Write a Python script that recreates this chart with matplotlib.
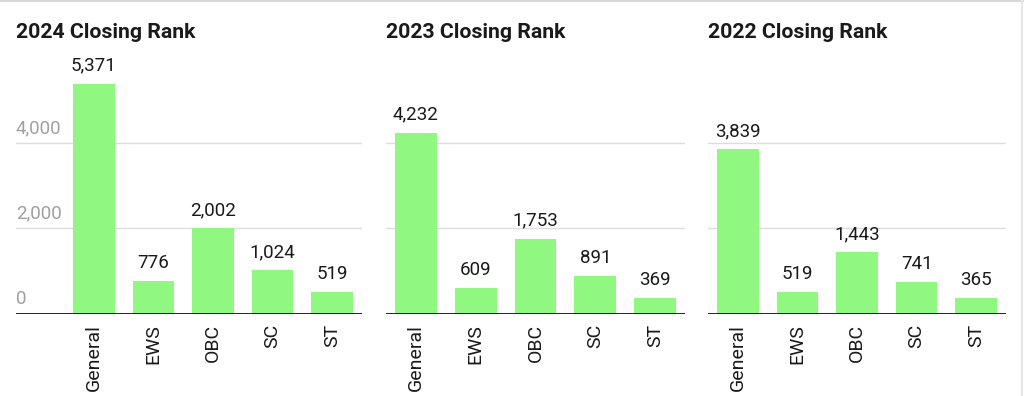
import matplotlib
matplotlib.use("Agg")
import matplotlib.pyplot as plt
from matplotlib.lines import Line2D

plt.rcParams['font.family'] = ['Roboto', 'DejaVu Sans']

categories = ["General", "EWS", "OBC", "SC", "ST"]
titles = ["2024 Closing Rank", "2023 Closing Rank", "2022 Closing Rank"]
values_2024 = [5371, 776, 2002, 1024, 519]
values_2023 = [4232, 609, 1753, 891, 369]
values_2022 = [3839, 519, 1443, 741, 365]
series = [values_2024, values_2023, values_2022]
yticks = [0, 2000, 4000]
ytick_labels = ["0", "2,000", "4,000"]

W, H = 1024, 396
fig = plt.figure(figsize=(W / 100, H / 100), dpi=100)

BAR = "#90F880"
GRID = "#dddddd"

top_px, bot_px = 60, 314
px_per_2000 = 85.7
ymax = (bot_px - top_px) / px_per_2000 * 2000

panels = [(16, 362, 64), (386, 685, 386), (708, 1006, 708)]

for i, ((l, r, bl), vals, title) in enumerate(zip(panels, series, titles)):
    ax = fig.add_axes([l / W, (H - bot_px) / H, (r - l) / W, (bot_px - top_px) / H])
    band = (r - bl) / 5
    extra = (bl - l) / band
    ax.set_xlim(-0.5 - extra, 4.5)
    ax.set_ylim(0, ymax)
    x = list(range(len(categories)))
    ax.bar(x, vals, width=0.7, color=BAR, zorder=2)
    for xi, v in zip(x, vals):
        ax.annotate(f"{v:,}", (xi, v), xytext=(0, 9.5), textcoords="offset points",
                    ha="center", va="baseline", fontsize=13.5, color="#1a1a1a")
    for t in yticks[1:]:
        ax.axhline(t, color=GRID, lw=1, zorder=1)
    ax.axhline(0, color="black", lw=1.2, zorder=3)
    if i == 0:
        for t, lab in zip(yticks, ytick_labels):
            ax.annotate(lab, (0, t), xycoords=("axes fraction", "data"),
                        xytext=(0, 7), textcoords="offset points",
                        ha="left", va="baseline", fontsize=13.5, color="#a0a0a0")
    ax.set_xticks(x)
    ax.set_xticklabels(categories, rotation=90, fontsize=14, color="#1a1a1a")
    ax.tick_params(axis="x", length=0, pad=7)
    ax.set_yticks([])
    for s in ax.spines.values():
        s.set_visible(False)
    ax.patch.set_alpha(0)
    fig.text(l / W, (H - 38) / H, title, fontsize=15.3, fontweight="bold",
             color="#1a1a1a", ha="left", va="baseline")

fig.add_artist(Line2D([0, 1], [1 - 1 / H, 1 - 1 / H], transform=fig.transFigure,
                      color="#d8d8d8", lw=1.5))
fig.add_artist(Line2D([1 - 2 / W, 1 - 2 / W], [0, 1], transform=fig.transFigure,
                      color="#e6e6e6", lw=1.5))

fig.savefig("out.png", dpi=100, facecolor="white")
